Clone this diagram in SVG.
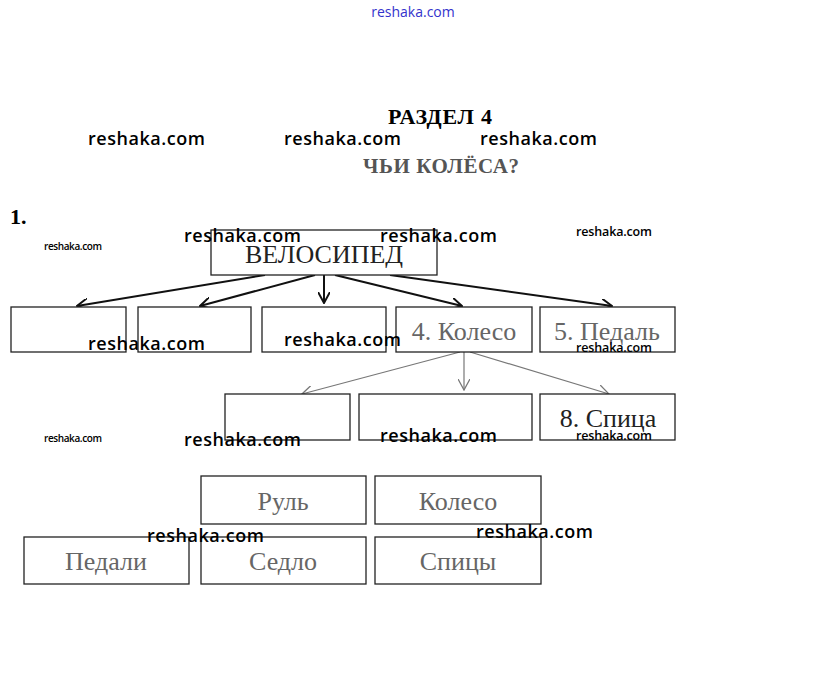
<svg xmlns="http://www.w3.org/2000/svg" width="823" height="690" viewBox="0 0 823 690">
<defs>
<style>
.box{fill:#fff;stroke:#222;stroke-width:1.3}
.t{font-family:"Liberation Serif",serif;text-anchor:middle}
.g{fill:#666}
.wm{font-family:"Open Sans","DejaVu Sans",sans-serif;fill:#000;font-weight:600}
.c{stroke:#111;stroke-width:2;fill:none}
.c2{stroke:#777;stroke-width:1.2;fill:none}
</style>
<marker id="ah" viewBox="0 0 12 12" refX="11" refY="6" markerWidth="12" markerHeight="12" markerUnits="userSpaceOnUse" orient="auto">
<path d="M0,0 L11,6 L0,12" fill="none" stroke="#111" stroke-width="2"/>
</marker>
<marker id="ah2" viewBox="0 0 12 12" refX="11" refY="6" markerWidth="12" markerHeight="12" markerUnits="userSpaceOnUse" orient="auto">
<path d="M0,0 L11,6 L0,12" fill="none" stroke="#777" stroke-width="1.3"/>
</marker>
</defs>
<rect width="823" height="690" fill="#fff"/>
<text x="413" y="17" font-family="Open Sans,DejaVu Sans,sans-serif" font-size="14" fill="#3333cc" text-anchor="middle">reshaka.com</text>
<text x="440" y="124" class="t" font-size="22" font-weight="bold" textLength="104">РАЗДЕЛ 4</text>
<text x="441" y="173" class="t" font-size="21" font-weight="bold" fill="#555" textLength="156">ЧЬИ КОЛЁСА?</text>
<text x="10" y="224" font-family="Liberation Serif,serif" font-size="22" font-weight="bold">1.</text>

<g id="connectors">
<line class="c" x1="265" y1="275" x2="77" y2="306" marker-end="url(#ah)"/>
<line class="c" x1="315" y1="275" x2="200" y2="306" marker-end="url(#ah)"/>
<line class="c" x1="324" y1="275" x2="324" y2="303" marker-end="url(#ah)"/>
<line class="c" x1="335" y1="275" x2="462" y2="306" marker-end="url(#ah)"/>
<line class="c" x1="390" y1="275" x2="612" y2="306" marker-end="url(#ah)"/>
<line class="c2" x1="460" y1="352" x2="302" y2="394" marker-end="url(#ah2)"/>
<line class="c2" x1="464" y1="352" x2="464" y2="390" marker-end="url(#ah2)"/>
<line class="c2" x1="470" y1="352" x2="609" y2="394" marker-end="url(#ah2)"/>
</g>

<g id="n-velosiped"><rect class="box" x="211" y="230" width="226" height="45"/><text class="t" x="324" y="263" font-size="26" fill="#222">ВЕЛОСИПЕД</text></g>
<g id="n-b1"><rect class="box" x="11" y="307" width="115" height="45"/></g>
<g id="n-b2"><rect class="box" x="138" y="307" width="113" height="45"/></g>
<g id="n-b3"><rect class="box" x="262" y="307" width="124" height="45"/></g>
<g id="n-koleso"><rect class="box" x="396" y="307" width="136" height="45"/><text class="t g" x="464" y="340" font-size="26">4. Колесо</text></g>
<g id="n-pedal"><rect class="box" x="540" y="307" width="135" height="45"/><text class="t g" x="607" y="340" font-size="26">5. Педаль</text></g>
<g id="n-c1"><rect class="box" x="225" y="394" width="125" height="46"/></g>
<g id="n-c2"><rect class="box" x="359" y="394" width="173" height="46"/></g>
<g id="n-spica"><rect class="box" x="540" y="394" width="135" height="46"/><text class="t" x="608" y="427" font-size="26" fill="#222">8. Спица</text></g>

<g id="n-rul"><rect class="box" x="201" y="476" width="165" height="48"/><text class="t g" x="283" y="510" font-size="26">Руль</text></g>
<g id="n-koleso2"><rect class="box" x="375" y="476" width="166" height="48"/><text class="t g" x="458" y="510" font-size="26">Колесо</text></g>
<g id="n-pedali"><rect class="box" x="24" y="537" width="165" height="47"/><text class="t g" x="106" y="570" font-size="26">Педали</text></g>
<g id="n-sedlo"><rect class="box" x="201" y="537" width="165" height="47"/><text class="t g" x="283" y="570" font-size="26">Седло</text></g>
<g id="n-spicy"><rect class="box" x="375" y="537" width="166" height="47"/><text class="t g" x="458" y="570" font-size="26">Спицы</text></g>

<g id="watermarks" class="wm">
<text x="88" y="145" font-size="18" textLength="117">reshaka.com</text>
<text x="284" y="145" font-size="18" textLength="117">reshaka.com</text>
<text x="480" y="145" font-size="18" textLength="117">reshaka.com</text>
<text x="184" y="242" font-size="18" textLength="117">reshaka.com</text>
<text x="380" y="242" font-size="18" textLength="117">reshaka.com</text>
<text x="88" y="350" font-size="18" textLength="117">reshaka.com</text>
<text x="284" y="346" font-size="18" textLength="117">reshaka.com</text>
<text x="184" y="446" font-size="18" textLength="117">reshaka.com</text>
<text x="380" y="442" font-size="18" textLength="117">reshaka.com</text>
<text x="147" y="542" font-size="18" textLength="117">reshaka.com</text>
<text x="476" y="538" font-size="18" textLength="117">reshaka.com</text>
<text x="44" y="250" font-size="10" textLength="58">reshaka.com</text>
<text x="44" y="442" font-size="10" textLength="58">reshaka.com</text>
<text x="576" y="236" font-size="12.5" textLength="76">reshaka.com</text>
<text x="576" y="352" font-size="12.5" textLength="76">reshaka.com</text>
<text x="576" y="440" font-size="12.5" textLength="76">reshaka.com</text>
</g>
</svg>
